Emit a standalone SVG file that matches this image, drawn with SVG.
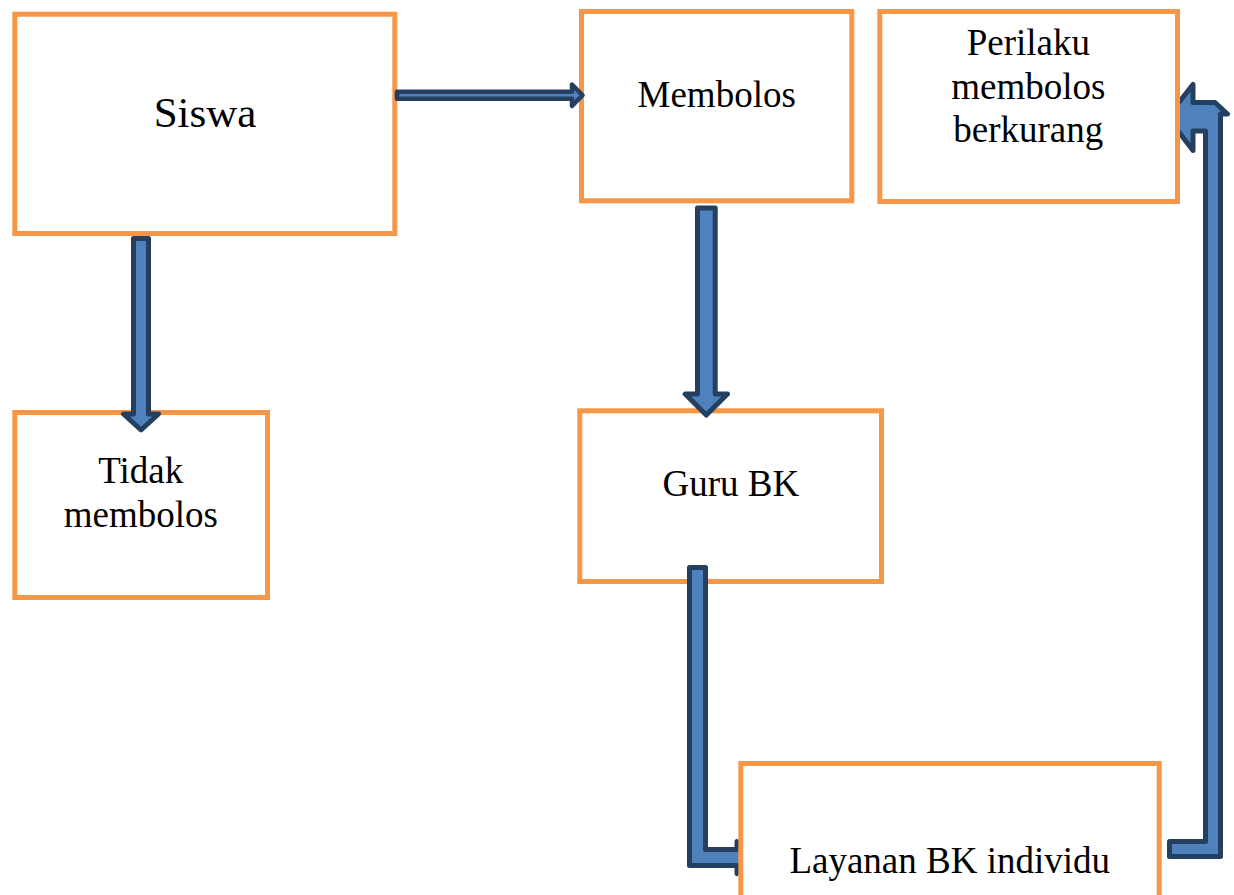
<svg xmlns="http://www.w3.org/2000/svg" width="1234" height="895" viewBox="0 0 1234 895">
<style>
.box{fill:#FFFFFF;stroke:#F79646;stroke-width:5}
.t{font-family:"Liberation Serif","Times New Roman",serif;font-size:37px;fill:#000;text-anchor:middle}
.arr{fill:#4F81BD;stroke:#243F60;stroke-width:5;stroke-linejoin:round}
</style>
<rect width="1234" height="895" fill="#FFFFFF"/>
<g id="node-siswa">
<rect class="box" x="14.8" y="14.2" width="380" height="219.3"/>
<text class="t" x="205" y="126.7" style="font-size:43px">Siswa</text>
</g>
<g id="node-membolos">
<rect class="box" x="581.5" y="11.5" width="270.3" height="189.3"/>
<text class="t" x="716.7" y="106.7">Membolos</text>
</g>
<g id="node-tidak">
<rect class="box" x="14.8" y="412.5" width="252.7" height="185"/>
<text class="t" x="140.8" y="482.7">Tidak</text>
<text class="t" x="140.8" y="526.7">membolos</text>
</g>
<g id="node-guru">
<rect class="box" x="579.8" y="410.8" width="301.7" height="170.7"/>
<text class="t" x="730.8" y="495.7">Guru BK</text>
</g>
<g id="connectors">
<path class="arr" style="stroke-width:4.5" d="M397 91.75 L572 91.75 L572 84.5 L582.5 95.25 L572 106 L572 98.75 L397 98.75 Z"/>
<path class="arr" d="M133.5 238.5 L148.5 238.5 L148.5 414 L158.5 414 L141 430 L123.5 414 L133.5 414 Z"/>
<path class="arr" d="M697.5 208 L715.2 208 L715.2 394 L727.5 394 L706.3 415 L685.2 394 L697.5 394 Z"/>
<path class="arr" d="M689.5 567.5 L705.5 567.5 L705.5 849.5 L737 849.5 L737 841.5 L760 857.5 L737 873.5 L737 865.5 L689.5 865.5 Z"/>
<path class="arr" d="M1169.5 841.5 L1205.5 841.5 L1205.5 131 L1193 131 L1193 150.5 L1167.5 117 L1193 84.5 L1193 102.5 L1215 102.5 L1227.5 114 L1220.5 114 L1220.5 856.5 L1169.5 856.5 Z"/>
</g>
<g id="node-layanan">
<rect class="box" x="740.8" y="763.5" width="418.4" height="150"/>
<text class="t" x="949.7" y="872.7">Layanan BK individu</text>
</g>
<g id="node-perilaku">
<rect class="box" x="879.8" y="11.5" width="297.7" height="190"/>
<text class="t" x="1028.3" y="55">Perilaku</text>
<text class="t" x="1028.3" y="99">membolos</text>
<text class="t" x="1028.3" y="141.7">berkurang</text>
</g>
</svg>
